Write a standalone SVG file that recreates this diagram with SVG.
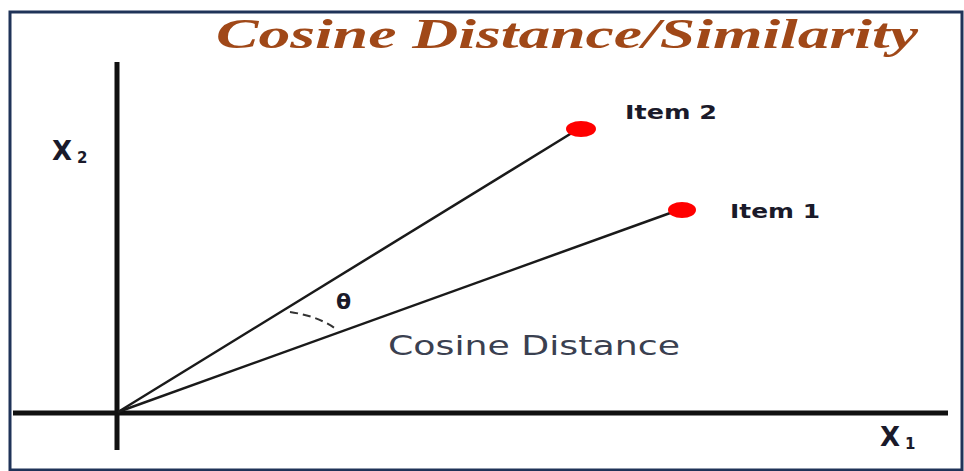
<svg xmlns="http://www.w3.org/2000/svg" width="964" height="471" viewBox="0 0 964 471">
<style>
.ax{stroke:#111;stroke-width:5;fill:none}
.vec{stroke:#1a1a1a;stroke-width:2.5;fill:none}
.lbl{font-family:"DejaVu Sans","Liberation Sans",sans-serif;font-weight:bold;fill:#1a1a2a}
.dot{fill:#f00}
</style>
<rect x="0" y="0" width="964" height="471" fill="#fff"/>
<rect x="10" y="12" width="952" height="458" fill="#fff" stroke="#1f3358" stroke-width="3"/>
<text x="216" y="48" font-family="Liberation Serif,serif" font-style="italic" font-weight="bold" font-size="43" fill="#a04818" textLength="702" lengthAdjust="spacingAndGlyphs">Cosine Distance/Similarity</text>
<g id="axes">
<line class="ax" x1="117" y1="62" x2="117" y2="450"/>
<line class="ax" x1="13" y1="413" x2="948" y2="413"/>
</g>
<g id="connectors">
<line class="vec" x1="118" y1="412" x2="575" y2="131"/>
<line class="vec" x1="118" y1="412" x2="673" y2="212"/>
<path d="M290,312 Q318,316 336,329" stroke="#333" stroke-width="2" stroke-dasharray="8,5" fill="none"/>
</g>
<g id="item2">
<ellipse class="dot" cx="581" cy="129" rx="15" ry="8"/>
<text class="lbl" x="625" y="119" font-size="19" textLength="92" lengthAdjust="spacingAndGlyphs">Item 2</text>
</g>
<g id="item1">
<ellipse class="dot" cx="682" cy="210" rx="14" ry="8"/>
<text class="lbl" x="730" y="218" font-size="19" textLength="90" lengthAdjust="spacingAndGlyphs">Item 1</text>
</g>
<text class="lbl" x="336" y="309" font-size="22">θ</text>
<text x="388" y="355" font-family="DejaVu Sans,Liberation Sans,sans-serif" font-size="27" fill="#3a4050" textLength="292" lengthAdjust="spacingAndGlyphs">Cosine Distance</text>
<text class="lbl" x="52" y="160" font-size="26" letter-spacing="5">X<tspan font-size="15" dy="3">2</tspan></text>
<text class="lbl" x="880" y="446" font-size="26" letter-spacing="5">X<tspan font-size="15" dy="3">1</tspan></text>
</svg>
